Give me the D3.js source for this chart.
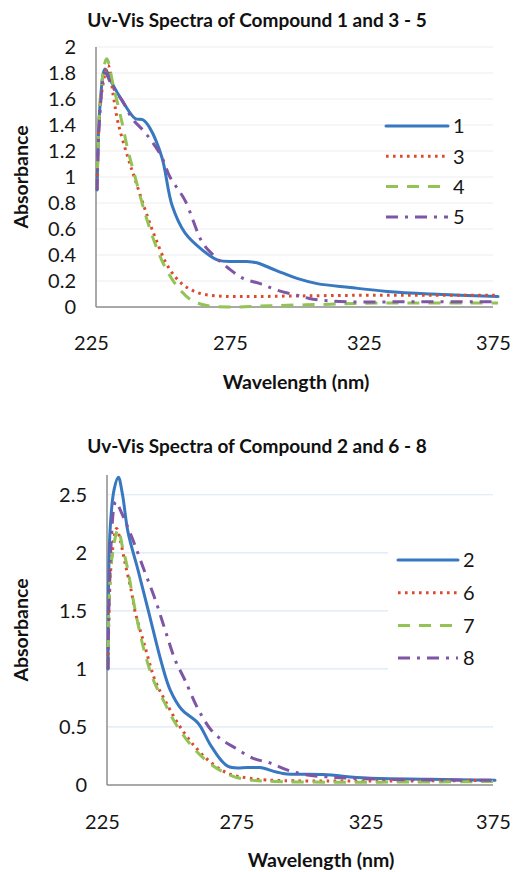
<!DOCTYPE html>
<html>
<head>
<meta charset="utf-8">
<script src="https://cdn.jsdelivr.net/npm/d3@7"></script>
<style>
    body { margin: 0; background: #ffffff; }
    svg { display: block; font-family: Lato, "Open Sans", sans-serif; }
</style>
</head>
<body>
<svg id="grafico" width="514" height="872"></svg>
<script>
// valores (comprimento de onda em nm, absorbancia)
var xTicks = [225, 275, 325, 375];
var yTicksTop = [0, 0.2, 0.4, 0.6, 0.8, 1, 1.2, 1.4, 1.6, 1.8, 2];
var yTicksBottom = [0, 0.5, 1, 1.5, 2, 2.5];

var namesTop = ["1", "3", "4", "5"];
var namesBottom = ["2", "6", "7", "8"];

var comp1 = [[225.4,0.9],[226.5,1.55],[228.4,1.83],[231,1.72],[235,1.58],[239.6,1.45],[242.5,1.44],[245,1.38],[249.6,1.15],[253.4,0.78],[258.2,0.57],[264.6,0.44],[270.5,0.36],[276.9,0.35],[281,0.35],[285,0.34],[290,0.3],[294.8,0.26],[300,0.22],[307.5,0.18],[319.8,0.15],[333.6,0.12],[350,0.1],[375,0.08]];
var comp3 = [[225.4,0.9],[226.8,1.6],[229.5,1.86],[231.5,1.62],[233.2,1.42],[236.9,1.15],[239.6,0.98],[243.3,0.75],[247,0.54],[251.9,0.31],[257,0.18],[263,0.11],[270.5,0.085],[280,0.08],[300,0.085],[325,0.09],[350,0.09],[375,0.09]];
var comp4 = [[225.4,0.9],[226.8,1.65],[229,1.91],[231.5,1.7],[234.7,1.42],[237,1.2],[239.6,1.0],[243.3,0.72],[247,0.49],[250.7,0.31],[255.6,0.15],[260.8,0.05],[266.8,0.01],[275,0],[290,0.01],[310,0.02],[330,0.03],[375,0.03]];
var comp5 = [[225.4,0.9],[226.5,1.5],[228.4,1.8],[231,1.7],[235,1.58],[238.5,1.45],[242.5,1.36],[246,1.27],[249.6,1.15],[252.6,1.0],[258.2,0.82],[264.6,0.5],[268.7,0.4],[274.3,0.3],[279.9,0.22],[286.2,0.18],[292.5,0.13],[300,0.09],[306,0.06],[318.7,0.04],[340,0.04],[375,0.04]];

var comp2 = [[225.4,1.0],[226.2,2.2],[227.8,2.55],[229.4,2.65],[231,2.5],[233.1,2.18],[237,1.85],[241,1.5],[246.1,1.05],[249.4,0.82],[253.9,0.65],[260.3,0.53],[265.4,0.33],[271.8,0.16],[279.5,0.15],[284.1,0.15],[293,0.1],[308.5,0.09],[325.5,0.06],[350,0.05],[375,0.04]];
var comp6 = [[225.4,1.0],[226.6,1.9],[228.7,2.21],[230.2,2.1],[232,1.91],[234.5,1.66],[235.8,1.5],[239.7,1.19],[243.6,0.9],[247.4,0.73],[252.4,0.53],[259,0.33],[265.4,0.19],[271.8,0.1],[279.5,0.06],[290,0.04],[375,0.04]];
var comp7 = [[225.4,1.0],[226.6,1.9],[229.3,2.2],[231,2.05],[233.1,1.85],[235,1.61],[239,1.19],[243,0.9],[247,0.72],[251.5,0.53],[258,0.33],[264.5,0.19],[271,0.1],[278,0.05],[290,0.03],[375,0.03]];
var comp8 = [[225.4,1.0],[226.4,2.0],[228.4,2.44],[230.5,2.35],[234.5,2.14],[239.7,1.83],[243.6,1.6],[247.4,1.34],[251.3,1.08],[255.2,0.9],[260.3,0.65],[265.4,0.47],[270,0.38],[274.5,0.32],[281.5,0.23],[288,0.19],[294.6,0.13],[301.5,0.09],[310,0.07],[330,0.05],[375,0.04]];

var estilos = [
    { cor: "#3878c0", traco: null, cap: "round" },
    { cor: "#dc4a2c", traco: "2.6 4.4", cap: "butt" },
    { cor: "#93c355", traco: "12 9", cap: "butt" },
    { cor: "#7f55a6", traco: "12 7 3 7", cap: "butt" }
];

var svg = d3.select("#grafico");

function desenharGrafico(cfg) {
    var g = svg.append("g");

    var x = d3.scaleLinear().domain([225, 375]).range([cfg.esq, cfg.dir]);
    var y = d3.scaleLinear().domain([0, cfg.yMax]).range([cfg.base, cfg.topo]);

    // linhas de grade
    g.append("g").selectAll("line")
        .data(cfg.yTicks.filter(function(d) { return d > 0; }))
        .join("line")
        .attr("x1", cfg.esq)
        .attr("x2", cfg.gradeFim)
        .attr("y1", function(d) { return y(d); })
        .attr("y2", function(d) { return y(d); })
        .attr("stroke", cfg.corGrade)
        .attr("stroke-width", 1.2);

    // legenda (fundo branco por cima da grade)
    if (cfg.fundoLegenda) {
        g.append("rect")
            .attr("x", cfg.fundoLegenda[0])
            .attr("y", cfg.fundoLegenda[1])
            .attr("width", cfg.fundoLegenda[2])
            .attr("height", cfg.fundoLegenda[3])
            .attr("fill", "#ffffff");
    }

    var linha = d3.line()
        .x(function(d) { return x(d[0]); })
        .y(function(d) { return y(d[1]); })
        .curve(d3.curveCatmullRom.alpha(0.5));

    // eixos
    g.append("line")
        .attr("x1", cfg.esq).attr("x2", cfg.esq)
        .attr("y1", cfg.topo).attr("y2", cfg.base)
        .attr("stroke", "#8c8c8c").attr("stroke-width", 1.5);
    g.append("line")
        .attr("x1", cfg.esq).attr("x2", cfg.gradeFim)
        .attr("y1", cfg.base).attr("y2", cfg.base)
        .attr("stroke", "#8c8c8c").attr("stroke-width", 1.5);

    var eixoY = g.append("g")
        .attr("transform", "translate(" + cfg.esq + ",0)")
        .call(d3.axisLeft(y).tickValues(cfg.yTicks).tickSize(0).tickPadding(20).tickFormat(d3.format("~g")));
    var eixoX = g.append("g")
        .attr("transform", "translate(0," + cfg.base + ")")
        .call(d3.axisBottom(x).tickValues(xTicks).tickSize(0).tickPadding(cfg.padX).tickFormat(d3.format("d")));

    [eixoY, eixoX].forEach(function(eixo) {
        eixo.select(".domain").remove();
        eixo.selectAll("text")
            .attr("fill", "#161616")
            .style("font-family", "Lato, 'Open Sans', sans-serif")
            .style("font-size", "20px");
    });
    eixoX.selectAll("text").filter(function(d) { return d == 225; }).attr("dx", -5);
    //o ultimo rotulo fica dentro da janela
    eixoX.selectAll("text").filter(function(d) { return d == 375; }).attr("dx", cfg.dxUltimo);

    cfg.series.forEach(function(s, i) {
        var est = estilos[i];
        g.append("path")
            .datum(s)
            .attr("d", linha)
            .attr("fill", "none")
            .attr("stroke", est.cor)
            .attr("stroke-width", 3)
            .attr("stroke-linecap", est.cap)
            .attr("stroke-linejoin", "round")
            .attr("stroke-dasharray", est.traco);
    });

    cfg.nomes.forEach(function(nome, i) {
        var est = estilos[i];
        var yl = cfg.legY + i * cfg.legPasso;
        g.append("line")
            .attr("x1", cfg.legX1).attr("x2", cfg.legX2)
            .attr("y1", yl).attr("y2", yl)
            .attr("stroke", est.cor)
            .attr("stroke-width", 3)
            .attr("stroke-linecap", est.cap)
            .attr("stroke-dasharray", est.traco);
        g.append("text")
            .attr("x", cfg.legX2 + 5)
            .attr("y", yl)
            .attr("dy", "0.36em")
            .attr("fill", "#161616")
            .style("font-size", "20px")
            .text(nome);
    });

    g.append("text")
        .attr("x", 257)
        .attr("y", cfg.tituloY)
        .attr("text-anchor", "middle")
        .attr("fill", "#111111")
        .style("font-size", "19px")
        .style("font-weight", "bold")
        .text(cfg.titulo);

    g.append("text")
        .attr("transform", "translate(" + 28 + "," + ((cfg.topo + cfg.base) / 2) + ") rotate(-90)")
        .attr("text-anchor", "middle")
        .attr("fill", "#111111")
        .style("font-size", "19.5px")
        .style("font-weight", "bold")
        .text("Absorbance");

    g.append("text")
        .attr("x", cfg.xTituloX)
        .attr("y", cfg.xTituloY)
        .attr("text-anchor", "middle")
        .attr("fill", "#111111")
        .style("font-size", "19.5px")
        .style("font-weight", "bold")
        .text("Wavelength (nm)");
}

desenharGrafico({
    titulo: "Uv-Vis Spectra of Compound 1 and 3 - 5",
    tituloY: 27,
    esq: 96, dir: 498, gradeFim: 493,
    topo: 47, base: 307, yMax: 2,
    yTicks: yTicksTop,
    padX: 29,
    dxUltimo: -5,
    corGrade: "#ededed",
    series: [comp1, comp3, comp4, comp5],
    nomes: namesTop,
    legX1: 386, legX2: 448, legY: 126, legPasso: 30.3,
    fundoLegenda: null,
    xTituloX: 296, xTituloY: 389
});

desenharGrafico({
    titulo: "Uv-Vis Spectra of Compound 2 and 6 - 8",
    tituloY: 453,
    esq: 107, dir: 495, gradeFim: 493,
    topo: 475, base: 785, yMax: 2.67,
    yTicks: yTicksBottom,
    padX: 30,
    dxUltimo: -2,
    corGrade: "#dce7f2",
    series: [comp2, comp6, comp7, comp8],
    nomes: namesBottom,
    legX1: 398, legX2: 458, legY: 560, legPasso: 32.7,
    fundoLegenda: [388, 540, 105, 132],
    xTituloX: 321, xTituloY: 867
});
</script>
</body>
</html>
